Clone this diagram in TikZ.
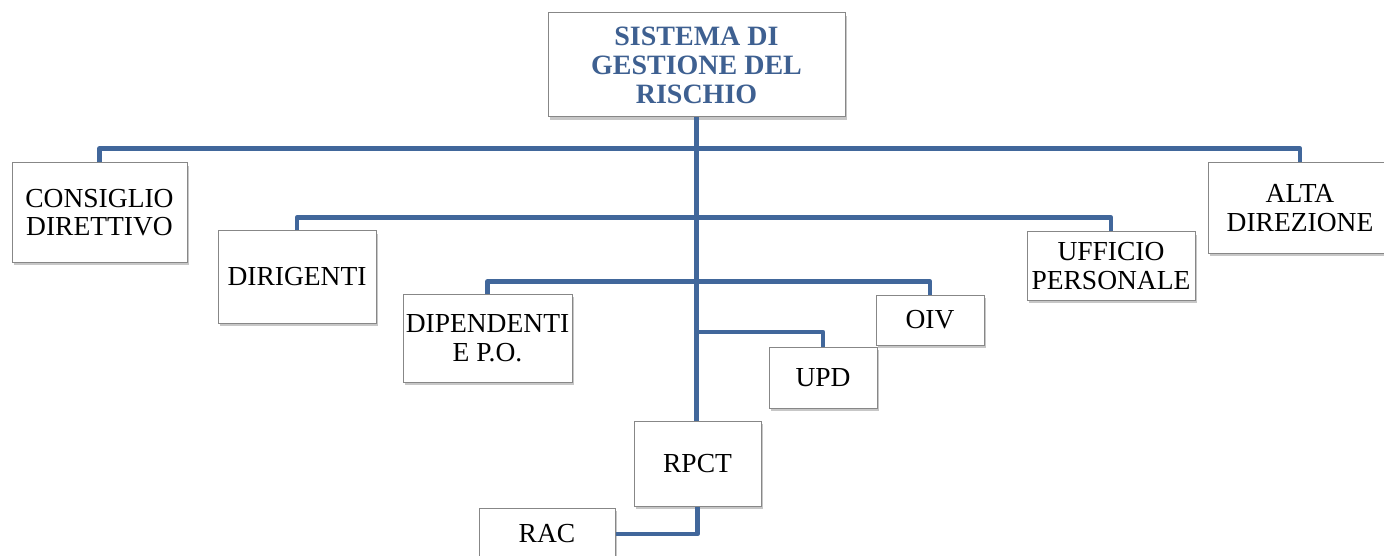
\documentclass[tikz,border=0pt]{standalone}
\usepackage{fontspec}
\setmainfont{Liberation Serif}
\usetikzlibrary{shadows}
\definecolor{linkblue}{RGB}{65,103,155}
\definecolor{titleblue}{RGB}{62,96,145}
\definecolor{boxgray}{RGB}{135,135,135}
\tikzset{
  orgbox/.style={draw=boxgray, line width=1pt, fill=white, inner sep=0pt,
    align=center, font=\fontsize{27.5}{28.5}\selectfont,
    drop shadow={shadow xshift=1.5pt, shadow yshift=-3pt, opacity=0.22, fill=black}},
  link/.style={draw=linkblue, line width=4.5pt, line join=round}
}
\begin{document}
\begin{tikzpicture}[x=1pt, y=-1pt]
\useasboundingbox (0,0) rectangle (1384,556);
% boxes: centre, width, height in px
\node[orgbox, minimum width=297pt, minimum height=104pt,
      font=\fontsize{28}{29}\selectfont\bfseries, text=titleblue]
  (title) at (696.5,65) {SISTEMA DI\\GESTIONE DEL\\RISCHIO};
\node[orgbox, minimum width=175pt, minimum height=99pt] (consiglio) at (99.5,212.5) {CONSIGLIO\\DIRETTIVO};
\node[orgbox, minimum width=184pt, minimum height=90pt] (alta) at (1300,208) {ALTA\\DIREZIONE};
\node[orgbox, minimum width=158pt, minimum height=92pt] (dirigenti) at (297,277) {DIRIGENTI};
\node[orgbox, minimum width=168pt, minimum height=68pt] (ufficio) at (1111,266) {UFFICIO\\PERSONALE};
\node[orgbox, minimum width=169pt, minimum height=88pt] (dipendenti) at (487.5,338) {DIPENDENTI\\E P.O.};
\node[orgbox, minimum width=108pt, minimum height=50pt] (oiv) at (930,320) {OIV};
\node[orgbox, minimum width=108pt, minimum height=61pt] (upd) at (823,377.5) {UPD};
\node[orgbox, minimum width=127pt, minimum height=85pt] (rpct) at (697.5,463.5) {RPCT};
\node[orgbox, minimum width=136pt, minimum height=52pt] (rac) at (547,534) {RAC};
% connectors
\coordinate (trunkupd) at (697,332);
\draw[link] (title.south) -- (title.south |- rpct.north);
\draw[link] (consiglio.north) -- ++(0,-14) -| (alta.north);
\draw[link] (dirigenti.north) -- ++(0,-13) -| (ufficio.north);
\draw[link] (dipendenti.north) -- ++(0,-12) -| (oiv.north);
\draw[link] (trunkupd) -| (upd.north);
\draw[link] (rpct.south) |- (rac.east);
\end{tikzpicture}
\end{document}
